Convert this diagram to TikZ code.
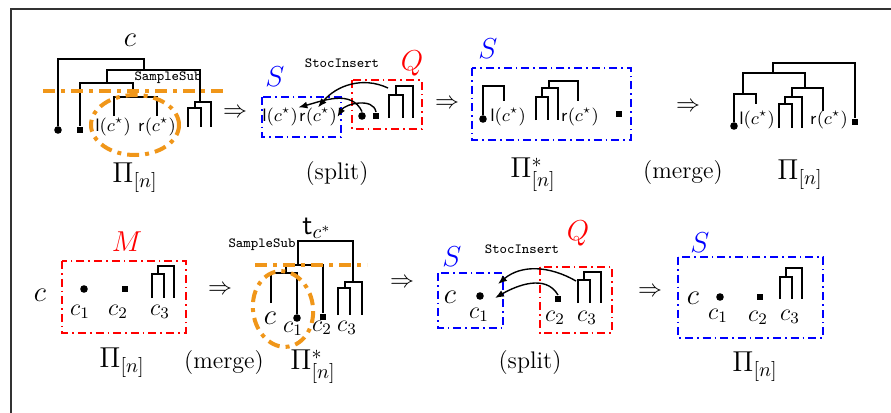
\documentclass[tikz,border=0pt]{standalone}
\usepackage{amsmath, amssymb}
\usetikzlibrary{positioning, arrows.meta, calc}

\definecolor{cutorange}{RGB}{240,150,25}

\tikzset{
    leafdot/.style={circle, fill, inner sep=0pt, minimum size=3.8pt},
    leafsq/.style={rectangle, fill, inner sep=0pt, minimum size=3.4pt},
    blockS/.style={draw=blue, line width=0.6pt, dash pattern=on 4pt off 2pt on 0.8pt off 2pt},
    blockQ/.style={draw=red, line width=0.6pt, dash pattern=on 4pt off 2pt on 0.8pt off 2pt},
    cutline/.style={draw=cutorange, line width=2pt, dash pattern=on 6pt off 3pt on 2pt off 3pt},
    insarrow/.style={-{Latex[length=4.5pt,width=3.5pt]}, line width=0.7pt},
    lbl/.style={font=\Large, inner sep=0pt},
    sublbl/.style={font=\large, inner sep=0pt},
    cstar/.style={font=\small, inner sep=0pt},
    opname/.style={font=\scriptsize\ttfamily, inner sep=0pt},
}

\begin{document}
\begin{tikzpicture}[x=0.5pt, y=-0.5pt, line width=0.6pt]
    \useasboundingbox (0,0) rectangle (891,413);
    % Frame
    \draw[line width=0.7pt, black!80] (11,413) -- (11,9) -- (891,9);

    % ---------- Row 1: SampleSub on Pi_[n] ----------
    \node[lbl] (c1) at (130,40) {$c$};
    \node[leafdot] (a1) at (58,130) {};
    \node[leafsq] (a2) at (80,130) {};
    \node[cstar] (a3) at (113,127) {$\mathsf{l}(c^\star)$};
    \node[cstar] (a4) at (157,127) {$\mathsf{r}(c^\star)$};
    \coordinate (a5) at (188,127);
    \coordinate (a6) at (201,127);
    \coordinate (a7) at (211,127);
    \coordinate (R1) at (101,59);
    \coordinate (N2) at (144,70);
    \coordinate (N3) at (107,83);
    \coordinate (cs) at (133,97);
    \coordinate (csl) at (114,116);
    \coordinate (csr) at (157,116);
    \coordinate (N4) at (200,102);
    \coordinate (N5) at (195,108);
    \draw (a1) |- (R1) -| (N2);
    \draw (N3) |- (N2) -| (N4);
    \draw (a2) |- (N3) -| (cs);
    \draw (csl) |- (cs) -| (csr);
    \draw (N5) |- (N4) -| (a7);
    \draw (a5) |- (N5) -| (a6);
    \node[opname] (ss1) at (168,78) {SampleSub};
    \draw[cutline] (43,91) -- (223,91);
    \draw[cutline] (135,125) ellipse [x radius=22pt, y radius=15pt];
    \node[lbl] (p1) at (135,178) {$\Pi_{[n]}$};
    \node[sublbl] (to1) at (235,113) {$\Rightarrow$};

    % split
    \draw[blockS] (262,97) rectangle (341,137);
    \node[lbl, text=blue] (S2) at (275,77) {$S$};
    \node[cstar] (lc2) at (280,117) {$\mathsf{l}(c^\star)$};
    \node[cstar] (rc2) at (318,117) {$\mathsf{r}(c^\star)$};
    \draw[blockQ] (352,80) rectangle (422,129);
    \node[lbl, text=red] (Q2) at (412,63) {$Q$};
    \node[leafdot] (dt2) at (362,116) {};
    \node[leafsq] (sq2) at (376,116) {};
    \coordinate (q1) at (389,118);
    \coordinate (q2) at (403,118);
    \coordinate (q3) at (413,118);
    \coordinate (Nq1) at (404,86);
    \coordinate (Nq2) at (396,95);
    \draw (Nq2) |- (Nq1) -| (q3);
    \draw (q1) |- (Nq2) -| (q2);
    \coordinate (qtop) at (388,88);
    \node[opname] (si2) at (342,63) {StocInsert};
    \draw[insarrow] (qtop) to[out=155, in=50] (rc2.north);
    \draw[insarrow] (dt2.north) to[out=115, in=15] (lc2.north east);
    \draw[insarrow] (sq2.north) to[out=100, in=60] (rc2.east);
    \node[sublbl] (sp2) at (337,174) {(split)};
    \node[sublbl] (to2) at (447,104) {$\Rightarrow$};

    % Pi*_[n]
    \node[lbl, text=blue] (S3) at (488,49) {$S$};
    \draw[blockS] (472,68) rectangle (631,140);
    \node[leafdot] (d3) at (483,119) {};
    \node[cstar] (lc3) at (508,117) {$\mathsf{l}(c^\star)$};
    \coordinate (Nl3) at (494,86);
    \coordinate (lt3) at (504,101);
    \draw (d3) |- (Nl3) -| (lt3);
    \coordinate (Nm1) at (563,81);
    \coordinate (Nm2) at (549,88);
    \coordinate (Nm3) at (542,97);
    \coordinate (m1) at (536,120);
    \coordinate (m2) at (548,120);
    \coordinate (m3) at (558,120);
    \coordinate (rt3) at (578,101);
    \node[cstar] (rc3) at (580,117) {$\mathsf{r}(c^\star)$};
    \draw (Nm2) |- (Nm1) -| (rt3);
    \draw (Nm3) |- (Nm2) -| (m3);
    \draw (m1) |- (Nm3) -| (m2);
    \node[leafsq] (s3) at (619,114) {};
    \node[lbl] (p3) at (533,175) {$\Pi^{*}_{[n]}$};
    \node[sublbl] (mg3) at (683,173) {(merge)};
    \node[sublbl] (to3) at (688,107) {$\Rightarrow$};

    % merged Pi_[n]
    \node[leafdot] (d4) at (734,126) {};
    \node[cstar] (lc4) at (757,120) {$\mathsf{l}(c^\star)$};
    \coordinate (Nl4) at (743,94);
    \coordinate (lt4) at (756,104);
    \coordinate (R4) at (814,63);
    \coordinate (N42) at (773,73);
    \coordinate (N43) at (805,88);
    \coordinate (N44) at (792,97);
    \coordinate (N45) at (785,104);
    \coordinate (k1) at (779,128);
    \coordinate (k2) at (792,128);
    \coordinate (k3) at (802,128);
    \coordinate (rt4) at (823,111);
    \node[cstar] (rc4) at (829,120) {$\mathsf{r}(c^\star)$};
    \node[leafsq] (s4) at (855,122) {};
    \draw (N42) |- (R4) -| (s4);
    \draw (Nl4) |- (N42) -| (N43);
    \draw (d4) |- (Nl4) -| (lt4);
    \draw (N44) |- (N43) -| (rt4);
    \draw (N45) |- (N44) -| (k3);
    \draw (k1) |- (N45) -| (k2);
    \node[lbl] (p4) at (800,175) {$\Pi_{[n]}$};

    % ---------- Row 2: merge then split ----------
    \node[lbl] (c5) at (40,295) {$c$};
    \draw[blockQ] (62,261) rectangle (186,333);
    \node[lbl, text=red] (M5) at (127,242) {$M$};
    \node[leafdot] (d5) at (84,289) {};
    \node[sublbl] (c51) at (80,312) {$c_1$};
    \node[leafsq] (s5) at (125,289) {};
    \node[sublbl] (c52) at (118,312) {$c_2$};
    \coordinate (b1) at (152,298);
    \coordinate (b2) at (164,298);
    \coordinate (b3) at (174,298);
    \coordinate (Nb1) at (166,266);
    \coordinate (Nb2) at (158,274);
    \draw (Nb2) |- (Nb1) -| (b3);
    \draw (b1) |- (Nb2) -| (b2);
    \node[sublbl] (c53) at (160,312) {$c_3$};
    \node[lbl] (p5) at (122,363) {$\Pi_{[n]}$};
    \node[sublbl] (to5) at (220,290) {$\Rightarrow$};
    \node[sublbl] (mg5) at (224,363) {(merge)};

    % t_{c*}
    \node[lbl] (t6) at (317,228) {$\mathsf{t}_{c^*}$};
    \node[opname] (ss6) at (262,245) {SampleSub};
    \coordinate (R6) at (325,241);
    \coordinate (N62) at (298,265);
    \coordinate (N63) at (353,282);
    \coordinate (N64) at (286,273);
    \coordinate (N65) at (345,288);
    \coordinate (cl6) at (271,303);
    \node[leafdot] (dt6) at (297,318) {};
    \node[leafsq] (sq6) at (323,317) {};
    \coordinate (e1) at (338,315);
    \coordinate (e2) at (350,315);
    \coordinate (e3) at (362,315);
    \draw (N62) |- (R6) -| (N63);
    \draw (N64) |- (N62) -| (sq6);
    \draw (cl6) |- (N64) -| (dt6);
    \draw (N65) |- (N63) -| (e3);
    \draw (e1) |- (N65) -| (e2);
    \node[lbl] (c6) at (270,318) {$c$};
    \node[sublbl] (c61) at (293,329) {$c_1$};
    \node[sublbl] (c62) at (322,328) {$c_2$};
    \node[sublbl] (c63) at (347,328) {$c_3$};
    \draw[cutline] (255,265) -- (367,265);
    \draw[cutline, rotate around={8:(283,309)}] (283,309) ellipse [x radius=15pt, y radius=19pt];
    \node[lbl] (p6) at (313,367) {$\Pi^{*}_{[n]}$};
    \node[sublbl] (to6) at (402,283) {$\Rightarrow$};

    % split
    \draw[blockS] (438,273) rectangle (503,328);
    \node[lbl, text=blue] (S7) at (452,257) {$S$};
    \node[lbl] (c7) at (450,297) {$c$};
    \node[leafdot] (d7) at (480,296) {};
    \node[sublbl] (c71) at (479,315) {$c_1$};
    \draw[blockQ] (540,267) rectangle (612,333);
    \node[lbl, text=red] (Q7) at (578,233) {$Q$};
    \node[leafsq] (s7) at (558,299) {};
    \node[sublbl] (c72) at (555,318) {$c_2$};
    \coordinate (g1) at (578,303);
    \coordinate (g2) at (590,303);
    \coordinate (g3) at (601,303);
    \coordinate (N71) at (593,272);
    \coordinate (N72) at (584,280);
    \draw (N72) |- (N71) -| (g3);
    \draw (g1) |- (N72) -| (g2);
    \node[sublbl] (c73) at (587,318) {$c_3$};
    \node[opname] (si7) at (522,249) {StocInsert};
    \coordinate (gtop) at (576,281);
    \coordinate (in7a) at (498,284);
    \coordinate (in7b) at (495,298);
    \draw[insarrow] (gtop) to[out=150, in=40] (in7a);
    \draw[insarrow] (s7.north) to[out=120, in=30] (in7b);
    \node[sublbl] (sp7) at (530,363) {(split)};
    \node[sublbl] (to7) at (650,292) {$\Rightarrow$};

    % result
    \node[lbl, text=blue] (S8) at (700,243) {$S$};
    \draw[blockS] (678,257) rectangle (823,338);
    \node[lbl] (c8) at (693,298) {$c$};
    \node[leafdot] (d8) at (720,297) {};
    \node[sublbl] (c81) at (718,316) {$c_1$};
    \node[leafsq] (s8) at (760,297) {};
    \node[sublbl] (c82) at (758,318) {$c_2$};
    \coordinate (h1) at (780,299);
    \coordinate (h2) at (792,299);
    \coordinate (h3) at (802,299);
    \coordinate (N81) at (795,268);
    \coordinate (N82) at (786,277);
    \draw (N82) |- (N81) -| (h3);
    \draw (h1) |- (N82) -| (h2);
    \node[sublbl] (c83) at (790,317) {$c_3$};
    \node[lbl] (p8) at (755,367) {$\Pi_{[n]}$};
\end{tikzpicture}
\end{document}
